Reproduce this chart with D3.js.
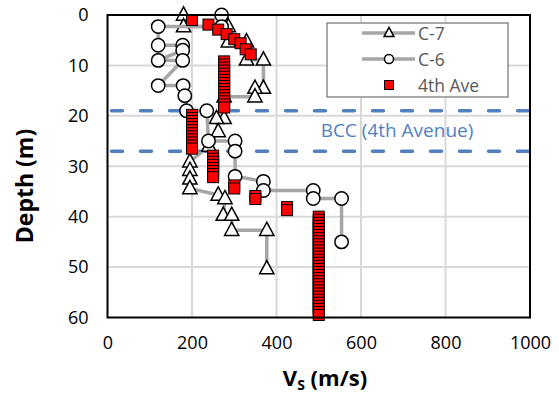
<!DOCTYPE html>
<html>
<head>
<meta charset="utf-8">
<script src="https://cdn.jsdelivr.net/npm/d3@7"></script>
<style>
  body { margin: 0; background: #fff; }
  text { font-family: "Open Sans", sans-serif; }
</style>
</head>
<body>
<script>
// shear wave velocity profiles, [Vs (m/s), depth (m)]
const c7 = [[180,0],[180,2.3],[286,2.3],[286,5.3],[329,5.3],[329,8.9],[369,8.9],[369,14.5],[349,14.5],[349,16.2],
  [276,16.2],[276,20.5],[258,20.5],[262,23.1],[240,26],[195,29.1],[195,30.8],[195,32.5],[195,34.4],[262,35.7],[278,36.4],
  [274,39.7],[294,39.7],[294,42.7],[377,42.7],[377,50.3]]
const c6 = [[270,0],[270,2.3],[120,2.3],[120,6],[178,6],[178,7],[120,9],[178,9],[120,14],[179,14],
  [183,16],[187,19],[235,19],[239,25],[302,25],[302,27],[302,32],[369,33],[369,34.8],[487,34.8],
  [487,36.4],[554,36.4],[554,45]]
const ave4 = [[200,1],[239,1.9],[262,2.9],[282,3.8],[300,4.8],[315,5.6],[327,6.8],[339,7.8]]
// stacked readings every 2 ft: [Vs, top depth, bottom depth]
const ave4Columns = [[276,9.2,18.8],[200,19.8,26.7],[250,27.9,32.6],[300,33.8,35],[350,35.9,37],[425,38.1,39.1],[500,40,60]]
ave4Columns.forEach(([v, top, bot]) => {
  for (let d = top; d <= bot + 0.01; d += 0.6096) ave4.push([v, d])
})
const xTicks = [0,200,400,600,800,1000]
const yTicks = [0,10,20,30,40,50,60]
const bccDepths = [19, 27]

const W = 559, H = 394
const m = {left: 107.5, top: 15, right: 29, bottom: 76.5}
const svg = d3.select('body').append('svg').attr('width', W).attr('height', H)

const x = d3.scaleLinear().domain([0,1000]).range([m.left, W - m.right])
const y = d3.scaleLinear().domain([0,60]).range([m.top, H - m.bottom])

// gridlines
svg.append('g').selectAll('line').data(xTicks.slice(1,-1)).enter().append('line')
  .attr('x1', d => x(d)).attr('x2', d => x(d)).attr('y1', y(0)).attr('y2', y(60))
  .attr('stroke', '#d9d9d9').attr('stroke-width', 2)
svg.append('g').selectAll('line').data(yTicks.slice(1,-1)).enter().append('line')
  .attr('y1', d => y(d)).attr('y2', d => y(d)).attr('x1', x(0)).attr('x2', x(1000))
  .attr('stroke', '#d9d9d9').attr('stroke-width', 2)

// axes (labels only)
svg.append('g').attr('transform', 'translate(0,' + (H - m.bottom) + ')')
  .call(d3.axisBottom(x).tickValues(xTicks).tickFormat(d3.format('d')).tickSize(0).tickPadding(19))
svg.append('g').attr('transform', 'translate(' + m.left + ',0)')
  .call(d3.axisLeft(y).tickValues(yTicks).tickFormat(d3.format('d')).tickSize(0).tickPadding(19))
svg.selectAll('.domain').remove()
svg.selectAll('.tick text').attr('font-family', '"Open Sans", sans-serif').attr('font-size', 18).attr('fill', '#000')

// BCC lines
svg.append('g').selectAll('line').data(bccDepths).enter().append('line')
  .attr('x1', x(0)).attr('x2', x(1000)).attr('y1', d => y(d)).attr('y2', d => y(d))
  .attr('stroke', '#5181bf').attr('stroke-width', 3.5).attr('stroke-dasharray', '11,18')
  .attr('stroke-linecap', 'round').attr('stroke-dashoffset', -4)
svg.append('text').attr('x', 397).attr('y', y(23) + 6.5).attr('text-anchor', 'middle')
  .attr('font-size', 19).attr('fill', '#5181bf').text('BCC (4th Avenue)')

const line = d3.line().x(d => x(d[0])).y(d => y(d[1]))
const triPath = s => 'M0,' + (-s*0.62) + 'L' + (s*0.55) + ',' + (s*0.4) + 'L' + (-s*0.55) + ',' + (s*0.4) + 'Z'

// C-7
svg.append('path').datum(c7).attr('d', line).attr('fill', 'none').attr('stroke', '#a6a6a6').attr('stroke-width', 3.5)
svg.append('g').selectAll('path').data(c7).enter().append('path')
  .attr('transform', d => 'translate(' + x(d[0]) + ',' + y(d[1]) + ')')
  .attr('d', triPath(13)).attr('fill', '#fff').attr('stroke', '#000').attr('stroke-width', 1.5)

// C-6
svg.append('path').datum(c6).attr('d', line).attr('fill', 'none').attr('stroke', '#a6a6a6').attr('stroke-width', 3.5)
svg.append('g').selectAll('circle').data(c6).enter().append('circle')
  .attr('cx', d => x(d[0])).attr('cy', d => y(d[1])).attr('r', 6.7)
  .attr('fill', '#fff').attr('stroke', '#000').attr('stroke-width', 1.5)

// 4th Ave
svg.append('g').selectAll('rect').data(ave4).enter().append('rect')
  .attr('x', d => x(d[0]) - 5.5).attr('y', d => y(d[1]) - 5.5).attr('width', 11).attr('height', 11)
  .attr('fill', '#ff0000').attr('stroke', '#000').attr('stroke-width', 1)

// plot border
svg.append('rect').attr('x', x(0)).attr('y', y(0)).attr('width', x(1000) - x(0)).attr('height', y(60) - y(0))
  .attr('fill', 'none').attr('stroke', '#000').attr('stroke-width', 2)

// legend
const lg = svg.append('g')
lg.append('rect').attr('x', 327).attr('y', 23).attr('width', 181).attr('height', 74)
  .attr('fill', '#fff').attr('stroke', '#8c8c8c').attr('stroke-width', 1.5)
const items = ['C-7', 'C-6', '4th Ave']
items.forEach((name, i) => {
  const cy = 33 + i * 26
  if (i < 2) lg.append('line').attr('x1', 362).attr('x2', 415).attr('y1', cy).attr('y2', cy)
    .attr('stroke', '#a6a6a6').attr('stroke-width', 3.5)
  if (i === 0) lg.append('path').attr('transform', 'translate(389,' + cy + ')').attr('d', triPath(9))
    .attr('fill', '#fff').attr('stroke', '#000').attr('stroke-width', 1.5)
  if (i === 1) lg.append('circle').attr('cx', 389).attr('cy', cy).attr('r', 4.5)
    .attr('fill', '#fff').attr('stroke', '#000').attr('stroke-width', 1.5)
  if (i === 2) lg.append('rect').attr('x', 384.5).attr('y', cy - 4.5).attr('width', 9).attr('height', 9)
    .attr('fill', '#ff0000').attr('stroke', '#000').attr('stroke-width', 1)
  lg.append('text').attr('x', 418).attr('y', cy + 6.5).attr('font-size', 17.5).attr('fill', '#595959').text(name)
})

// axis titles
const xt = svg.append('text').attr('x', 325).attr('y', 386).attr('text-anchor', 'middle')
  .attr('font-size', 22).attr('font-weight', 'bold')
xt.append('tspan').text('V')
xt.append('tspan').attr('font-size', 14).attr('dy', 4).text('S')
xt.append('tspan').attr('dy', -4).text(' (m/s)')
svg.append('text').attr('transform', 'translate(33,186) rotate(-90)').attr('text-anchor', 'middle')
  .attr('font-size', 23).attr('font-weight', 'bold').text('Depth (m)')
</script>
</body>
</html>
